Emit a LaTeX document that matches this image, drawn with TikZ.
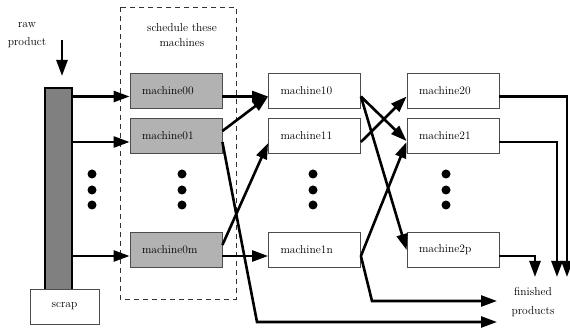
\documentclass[tikz,border=0pt]{standalone}
\usetikzlibrary{arrows.meta}
\tikzset{
  mach/.style={draw=black!70, line width=0.8pt, minimum height=35pt, text width=68pt,
    inner xsep=12pt, inner ysep=0pt, align=left},
  flow/.style={line width=2.6pt, -{Triangle[length=16pt,width=11pt]}},
}
\begin{document}
\begin{tikzpicture}[x=1pt,y=-1pt,font=\fontsize{11.5}{14}\selectfont]
\useasboundingbox (0,0) rectangle (570,328);

\draw[dash pattern=on 5pt off 4pt, line width=0.8pt, black!80] (120,7) rectangle (236,299);
\node[align=center, font=\fontsize{11.5}{15}\selectfont] (sched) at (182,35) {schedule these\\machines};
\node[align=center, font=\fontsize{11.5}{18}\selectfont] (raw) at (27,35) {raw\\product};
\node[align=center, font=\fontsize{11.5}{19}\selectfont] (fin) at (533,302) {finished\\products};

\node[draw, line width=1.5pt, fill=black!50, minimum width=27pt, minimum height=202pt, inner sep=0pt] (bar) at (58.5,189) {};
\node[draw=black!70, fill=white, line width=0.8pt, minimum width=69pt, minimum height=35pt] (scrap) at (64.5,306.5) {scrap};

\begin{scope}[every node/.style={mach, fill=black!30}]
    \node (m00) at (176,90.5) {machine00};
    \node (m01) at (176,136) {machine01};
    \node (m0m) at (176,250) {machine0m};
\end{scope}

\begin{scope}[every node/.style={mach, fill=white}]
    \node (m10) at (314.5,90.5) {machine10};
    \node (m11) at (314.5,136) {machine11};
    \node (m1n) at (314.5,250) {machine1n};
    \node (m20) at (453,90.5) {machine20};
    \node (m21) at (453,136) {machine21};
    \node (m2p) at (453,250) {machine2p};
\end{scope}

\foreach \x in {92,182,313,446}
    \foreach \y in {174,190,205}
        \fill (\x,\y) circle (4.5pt);

\coordinate (feed) at (62,40);
\coordinate (feedend) at (62,76);
\coordinate (low0) at (257,322);
\coordinate (low1) at (372,301);
\coordinate (end0) at (497,322);
\coordinate (end1) at (497,301);
\coordinate (out20) at (567,277);
\coordinate (out21) at (557,277);
\coordinate (out2p) at (535,277);

\begin{scope}[flow]
    \draw (feed) -- (feedend);
    \draw ([yshift=-6pt]m00.west -| bar.east) -- ([yshift=-6pt]m00.west);
    \draw ([yshift=-6pt]m01.west -| bar.east) -- ([yshift=-6pt]m01.west);
    \draw ([yshift=-6pt]m0m.west -| bar.east) -- ([yshift=-6pt]m0m.west);

    \draw ([yshift=-6pt]m00.east) -- ([yshift=-6pt]m10.west);
    \draw ([yshift=5pt]m01.east) -- ([yshift=-6pt]m10.west);
    \draw ([yshift=-6pt]m01.east) -- (low0) -- (end0);
    \draw ([yshift=5pt]m0m.east) -- ([yshift=-7pt]m11.west);
    \draw ([yshift=-6pt]m0m.east) -- ([yshift=-6pt]m1n.west);

    \draw ([yshift=-6pt]m10.east) -- ([yshift=-5pt]m21.west);
    \draw ([yshift=-6pt]m10.east) -- (m2p.west);
    \draw ([yshift=-6pt]m11.east) -- ([yshift=-6pt]m20.west);
    \draw ([yshift=-6pt]m1n.east) -- ([yshift=-6pt]m21.west);
    \draw ([yshift=-6pt]m1n.east) -- (low1) -- (end1);

    \draw ([yshift=-6pt]m20.east) -| (out20);
    \draw ([yshift=-6pt]m21.east) -| (out21);
    \draw ([yshift=-6pt]m2p.east) -| (out2p);
\end{scope}
\end{tikzpicture}
\end{document}
